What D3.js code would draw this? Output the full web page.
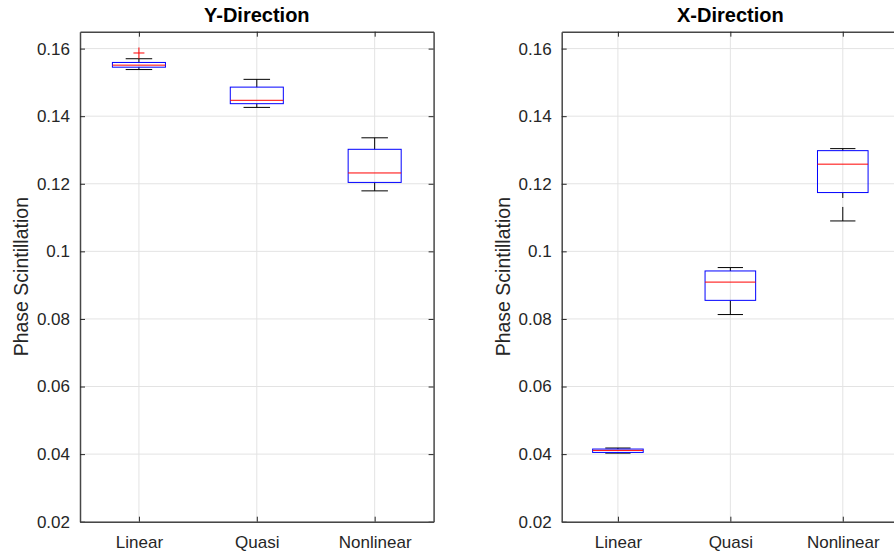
<!DOCTYPE html>
<html><head><meta charset="utf-8">
<script src="https://cdn.jsdelivr.net/npm/d3@7"></script>
<style>body{margin:0;background:#fff;} svg{display:block;font-family:"Liberation Sans",Arial,sans-serif;}</style>
</head><body>
<svg id="chart" width="894" height="558"></svg>
<script>
const categories = ["Linear", "Quasi", "Nonlinear"];
const yTicks = [0.02, 0.04, 0.06, 0.08, 0.1, 0.12, 0.14, 0.16];
const yTickLabels = ["0.02", "0.04", "0.06", "0.08", "0.1", "0.12", "0.14", "0.16"];

// Y-Direction box statistics
const yDirLow  = [0.1538, 0.1426, 0.1179];
const yDirQ1   = [0.1545, 0.1437, 0.1204];
const yDirMed  = [0.1551, 0.1447, 0.1232];
const yDirQ3   = [0.1559, 0.1486, 0.1302];
const yDirHigh = [0.1570, 0.1509, 0.1336];
const yDirOutlierCat = ["Linear"];
const yDirOutlierVal = [0.1587];

// X-Direction box statistics
const xDirLow  = [0.0403, 0.0813, 0.1090];
const xDirQ1   = [0.0405, 0.0855, 0.1174];
const xDirMed  = [0.0411, 0.0909, 0.1258];
const xDirQ3   = [0.0415, 0.0942, 0.1298];
const xDirHigh = [0.0418, 0.0952, 0.1304];
const xDirOutlierCat = [];
const xDirOutlierVal = [];

const panels = [
  {title: "Y-Direction", left: 80, right: 433.6, low: yDirLow, q1: yDirQ1, med: yDirMed, q3: yDirQ3, high: yDirHigh, oc: yDirOutlierCat, ov: yDirOutlierVal},
  {title: "X-Direction", left: 561.7, right: 899, low: xDirLow, q1: xDirQ1, med: xDirMed, q3: xDirQ3, high: xDirHigh, oc: xDirOutlierCat, ov: xDirOutlierVal}
];

const svg = d3.select("#chart");
const plotTop = 31.7, plotBottom = 521.7;
const y = d3.scaleLinear().domain([0.02, 0.165]).range([plotBottom, plotTop]);
const axisColor = "#474747";
const textColor = "#262626";
const gridColor = "#e3e3e3";
const tickLen = 5;

panels.forEach(p => {
  const x = d3.scaleLinear().domain([0.5, 3.5]).range([p.left, p.right]);
  const g = svg.append("g");
  g.selectAll(".gy").data(yTicks).join("line")
    .attr("x1", p.left).attr("x2", p.right)
    .attr("y1", d => y(d)).attr("y2", d => y(d))
    .attr("stroke", gridColor).attr("stroke-width", 1);
  g.selectAll(".gx").data(categories).join("line")
    .attr("x1", (d,i) => x(i+1)).attr("x2", (d,i) => x(i+1))
    .attr("y1", plotTop).attr("y2", plotBottom)
    .attr("stroke", gridColor).attr("stroke-width", 1);

  const yl = d3.axisLeft(y).tickValues(yTicks).tickFormat((d,i) => yTickLabels[i]).tickSizeInner(-tickLen).tickSizeOuter(0).tickPadding(10);
  const yr = d3.axisRight(y).tickValues(yTicks).tickFormat("").tickSizeInner(-tickLen).tickSizeOuter(0);
  const xb = d3.axisBottom(x).tickValues([1,2,3]).tickFormat(d => categories[d-1]).tickSizeInner(-tickLen).tickSizeOuter(0).tickPadding(14);
  const xt = d3.axisTop(x).tickValues([1,2,3]).tickFormat("").tickSizeInner(-tickLen).tickSizeOuter(0);
  const styleAxis = sel => {
    sel.select(".domain").attr("stroke", axisColor).attr("stroke-width", 1.5);
    sel.selectAll(".tick line").attr("stroke", textColor).attr("stroke-width", 1);
    sel.selectAll(".tick text").attr("fill", textColor).attr("font-size", "17px").attr("font-family", "Liberation Sans, Arial, sans-serif");
  };
  g.append("g").attr("transform", `translate(${p.left},0)`).call(yl).call(styleAxis);
  g.append("g").attr("transform", `translate(${p.right},0)`).call(yr).call(styleAxis);
  g.append("g").attr("transform", `translate(0,${plotBottom})`).call(xb).call(styleAxis);
  g.append("g").attr("transform", `translate(0,${plotTop})`).call(xt).call(styleAxis);

  const bw = 0.225, cw = 0.1125;
  const idx = d3.range(categories.length);
  g.selectAll(".wl").data(idx).join("line")
    .attr("x1", i => x(i+1)).attr("x2", i => x(i+1))
    .attr("y1", i => y(p.low[i])).attr("y2", i => y(p.q1[i]))
    .attr("stroke", "#000").attr("stroke-width", 1).attr("stroke-dasharray", "14,9");
  g.selectAll(".wh").data(idx).join("line")
    .attr("x1", i => x(i+1)).attr("x2", i => x(i+1))
    .attr("y1", i => y(p.high[i])).attr("y2", i => y(p.q3[i]))
    .attr("stroke", "#000").attr("stroke-width", 1).attr("stroke-dasharray", "14,9");
  ["low","high"].forEach(k => {
    g.selectAll(".cap"+k).data(idx).join("line")
      .attr("x1", i => x(i+1-cw)).attr("x2", i => x(i+1+cw))
      .attr("y1", i => y(p[k][i])).attr("y2", i => y(p[k][i]))
      .attr("stroke", "#000").attr("stroke-width", 1);
  });
  g.selectAll(".box").data(idx).join("rect")
    .attr("x", i => x(i+1-bw)).attr("width", i => x(i+1+bw) - x(i+1-bw))
    .attr("y", i => y(p.q3[i])).attr("height", i => y(p.q1[i]) - y(p.q3[i]))
    .attr("fill", "none").attr("stroke", "#0000ff").attr("stroke-width", 1);
  g.selectAll(".med").data(idx).join("line")
    .attr("x1", i => x(i+1-bw)).attr("x2", i => x(i+1+bw))
    .attr("y1", i => y(p.med[i])).attr("y2", i => y(p.med[i]))
    .attr("stroke", "#ff0000").attr("stroke-width", 1);
  const oi = p.oc.map(c => categories.indexOf(c));
  g.selectAll(".out").data(oi).join("path")
    .attr("d", (c, j) => { const cx = x(c+1), cy = y(p.ov[j]), r = 5.5; return `M${cx-r},${cy}H${cx+r}M${cx},${cy-r}V${cy+r}`; })
    .attr("stroke", "#ff0000").attr("stroke-width", 1).attr("fill", "none");

  svg.append("text").attr("x", (p.left + p.right) / 2).attr("y", 22)
    .attr("text-anchor", "middle").attr("font-weight", "bold").attr("font-size", "20px")
    .attr("fill", "#000").text(p.title);
  svg.append("text").attr("transform", `translate(${p.left - 52},${(plotTop+plotBottom)/2}) rotate(-90)`)
    .attr("text-anchor", "middle").attr("font-size", "19.5px").attr("fill", textColor)
    .text("Phase Scintillation");
});
</script>
</body></html>
